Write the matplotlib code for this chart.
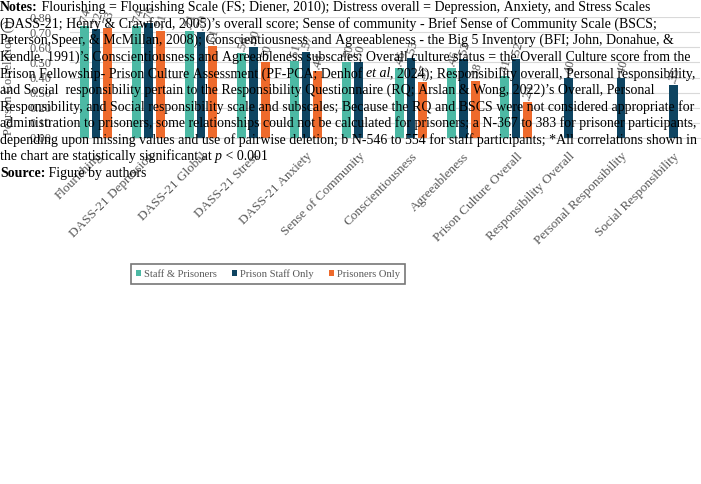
import matplotlib
matplotlib.use("Agg")
import matplotlib.pyplot as plt
import numpy as np

categories = ["Flourishing", "DASS-21 Depression", "DASS-21 Global", "DASS-21 Stress",
              "DASS-21 Anxiety", "Sense of Community", "Conscientiousness", "Agreeableness",
              "Prison Culture Overall", "Responsibility Overall", "Personal Responsibility",
              "Social Responsibility"]
staff_prisoners = [0.74, 0.74, 0.71, 0.56, 0.51, 0.50, 0.46, 0.46, 0.41, np.nan, np.nan, np.nan]
staff_only = [0.72, 0.76, 0.70, 0.60, 0.57, 0.50, 0.53, 0.52, 0.52, 0.40, 0.40, 0.35]
prisoners_only = [0.73, 0.71, 0.61, 0.50, 0.44, np.nan, 0.37, 0.38, 0.24, np.nan, np.nan, np.nan]
series_names = ["Staff & Prisoners", "Prison Staff Only", "Prisoners Only"]
colors = ["#4cb9a4", "#0e4461", "#ee6a2c"]
yticks = [0.0, 0.1, 0.2, 0.3, 0.4, 0.5, 0.6, 0.7, 0.8]

W, H = 701, 484
fig = plt.figure(figsize=(W / 100, H / 100), dpi=100)
serif = "Liberation Serif"
gray = "#595959"

ax = fig.add_axes([69.75 / W, 1 - 138 / H, 630 / W, 121 / H])
x = np.arange(len(categories))
bw, off = 0.17, 0.22
for i, (vals, name, c) in enumerate(zip([staff_prisoners, staff_only, prisoners_only], series_names, colors)):
    ax.bar(x + (i - 1) * off, vals, bw, color=c, label=name, zorder=2)
    for xi, v in zip(x + (i - 1) * off, vals):
        if not np.isnan(v):
            ax.text(xi - 0.02, v + 0.012, ("%.2f" % v)[1:], rotation=75, rotation_mode="anchor",
                    ha="left", va="center", fontsize=9, color="#505050", family=serif)

ax.set_xlim(-0.5, len(categories) - 0.5)
ax.set_ylim(0, 0.8)
ax.set_yticks(yticks)
ax.set_yticklabels(["%.2f" % t for t in yticks], family=serif, fontsize=9, color=gray)
ax.set_xticks(x)
ax.set_xticklabels(categories, rotation=45, ha="right", rotation_mode="anchor",
                   family=serif, fontsize=9.5, color=gray)
ax.tick_params(axis="both", length=0)
ax.tick_params(axis="y", pad=13)
ax.tick_params(axis="x", pad=9)
ax.grid(axis="y", color="#d9d9d9", linewidth=0.8, zorder=0)
for s in ["top", "right", "left"]:
    ax.spines[s].set_visible(False)
ax.spines["bottom"].set_color("#d9d9d9")
ax.set_facecolor("none")

fig.text(8 / W, 1 - 77.5 / H, "Pearson Correlation (r)", rotation=90, ha="center", va="center",
         family=serif, fontsize=9, color=gray)

leg = fig.legend(loc="center", bbox_to_anchor=(268 / W, 1 - 274 / H), ncol=3,
                 prop={"family": serif, "size": 7.6}, frameon=True, fancybox=False,
                 handlelength=0.5, handleheight=0.5, handletextpad=0.3, columnspacing=1.4,
                 borderpad=0.45, borderaxespad=0)
for t in leg.get_texts():
    t.set_color(gray)
leg.get_frame().set_edgecolor("#555555")
leg.get_frame().set_linewidth(1.2)

# Notes overlay
lines = [
    [("Notes:", "bold", "normal"), (" Flourishing = Flourishing Scale (FS; Diener, 2010); Distress overall = Depression, Anxiety, and Stress Scales", "normal", "normal")],
    [("(DASS-21; Henry & Crawford, 2005)\u2019s overall score; Sense of community - Brief Sense of Community Scale (BSCS;", "normal", "normal")],
    [("Peterson,Speer, & McMillan, 2008); Conscientiousness and Agreeableness - the Big 5 Inventory (BFI; John, Donahue, &", "normal", "normal")],
    [("Kendle, 1991)\u2019s Conscientiousness and Agreeableness subscales; Overall culture status = the Overall Culture score from the", "normal", "normal")],
    [("Prison Fellowship- Prison Culture Assessment (PF-PCA; Denhof ", "normal", "normal"), ("et al", "normal", "italic"), (", 2024); Responsibility overall, Personal responsibility,", "normal", "normal")],
    [("and Social  responsibility pertain to the Responsibility Questionnaire (RQ; Arslan & Wong, 2022)\u2019s Overall, Personal", "normal", "normal")],
    [("Responsibility, and Social responsibility scale and subscales; Because the RQ and BSCS were not considered appropriate for", "normal", "normal")],
    [("administration to prisoners, some relationships could not be calculated for prisoners; a N-367 to 383 for prisoner participants,", "normal", "normal")],
    [("depending upon missing values and use of pairwise deletion; b N-546 to 554 for staff participants; *All correlations shown in", "normal", "normal")],
    [("the chart are statistically significant at ", "normal", "normal"), ("p", "normal", "italic"), (" < 0.001", "normal", "normal")],
    [("Source:", "bold", "normal"), (" Figure by authors", "normal", "normal")],
]

fig.canvas.draw()
r = fig.canvas.get_renderer()


def width(s, fs, weight, style):
    t = fig.text(0, 0, s.replace(" ", "\u00a0"), fontsize=fs, family=serif, weight=weight, style=style)
    w = t.get_window_extent(r).width
    t.remove()
    return w


base_fs = 10
target = 697.0
w8 = width(lines[7][0][0], base_fs, "normal", "normal")
fs = base_fs * target / w8

for li, pieces in enumerate(lines):
    ypx = 11 + li * 16.6
    xpx = 0.0
    for s, weight, style in pieces:
        s2 = s.replace(" ", "\u00a0")
        fig.text(xpx / W, 1 - ypx / H, s2, fontsize=fs, family=serif, weight=weight,
                 style=style, color="black", va="baseline", ha="left")
        xpx += width(s, fs, weight, style)

fig.savefig("out.png", dpi=100)
